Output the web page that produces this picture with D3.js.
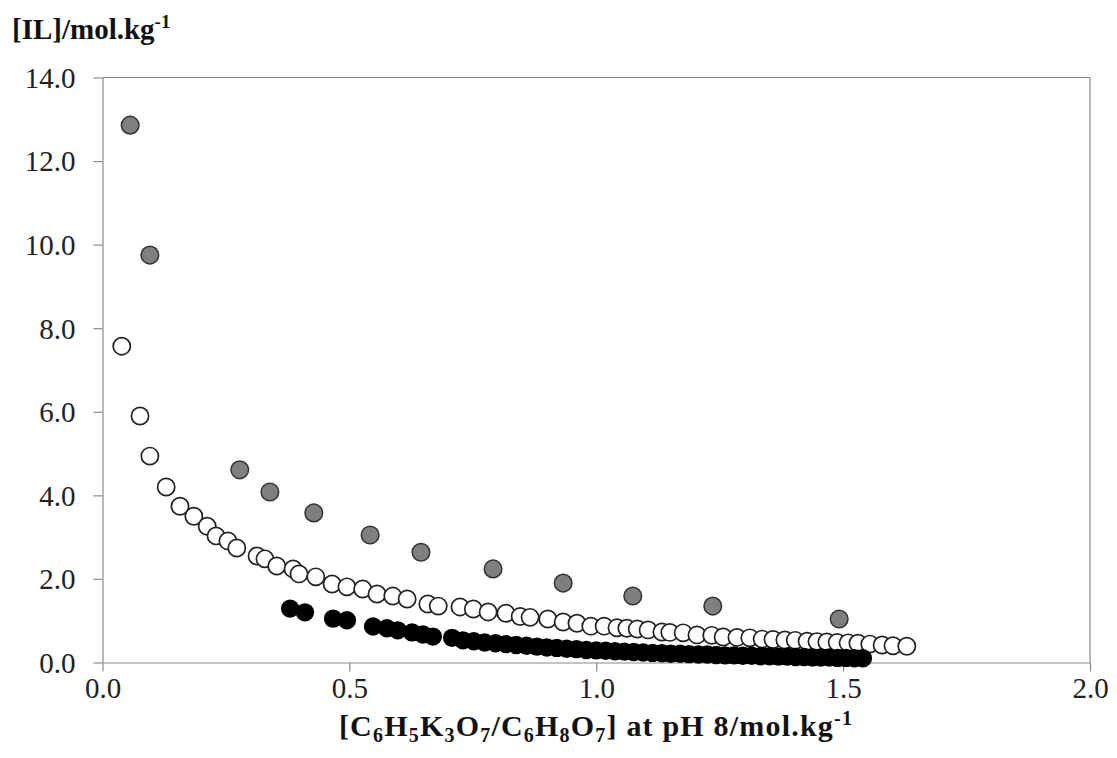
<!DOCTYPE html>
<html><head><meta charset="utf-8">
<script src="https://cdn.jsdelivr.net/npm/d3@7"></script>
<style>
body{margin:0;background:#fff;}
svg{display:block;}
text{font-family:"Liberation Serif","Times New Roman",serif;}
</style></head>
<body>
<svg id="chart" width="1117" height="758"></svg>
<script>
// Gray series
const grayX = [0.056,0.096,0.278,0.339,0.428,0.542,0.645,0.791,0.933,1.074,1.236,1.492];
const grayY = [12.86,9.75,4.61,4.08,3.58,3.05,2.64,2.24,1.90,1.59,1.35,1.04];
// White (open) series
const whiteX = [0.039,0.076,0.096,0.129,0.157,0.185,0.212,0.230,0.254,0.272,0.313,0.329,0.353,0.386,0.398,0.432,0.465,0.495,0.527,0.556,0.588,0.617,0.659,0.680,0.724,0.751,0.781,0.817,0.846,0.866,0.902,0.933,0.961,0.989,1.016,1.042,1.062,1.083,1.105,1.133,1.149,1.176,1.204,1.234,1.257,1.285,1.311,1.336,1.358,1.382,1.403,1.427,1.447,1.467,1.488,1.510,1.530,1.554,1.579,1.601,1.629];
const whiteY = [7.57,5.90,4.94,4.20,3.74,3.50,3.26,3.03,2.91,2.74,2.55,2.48,2.31,2.24,2.12,2.05,1.88,1.81,1.76,1.64,1.59,1.52,1.40,1.35,1.33,1.28,1.21,1.18,1.10,1.08,1.04,0.97,0.94,0.87,0.87,0.83,0.82,0.80,0.78,0.73,0.72,0.71,0.66,0.65,0.61,0.60,0.59,0.56,0.55,0.54,0.53,0.51,0.50,0.49,0.48,0.47,0.46,0.44,0.42,0.40,0.39];
// Black series
const blackX = [0.380,0.410,0.467,0.495,0.548,0.576,0.598,0.627,0.649,0.669,0.708,0.730,0.752,0.774,0.796,0.817,0.838,0.859,0.880,0.900,0.920,0.940,0.960,0.980,1.000,1.019,1.038,1.057,1.076,1.095,1.114,1.133,1.151,1.170,1.188,1.207,1.225,1.243,1.261,1.279,1.297,1.315,1.333,1.351,1.369,1.387,1.404,1.421,1.438,1.455,1.472,1.489,1.506,1.523,1.540];
const blackY = [1.29,1.20,1.05,1.01,0.86,0.82,0.77,0.72,0.67,0.62,0.59,0.53,0.51,0.48,0.46,0.44,0.42,0.40,0.38,0.36,0.35,0.33,0.32,0.30,0.29,0.28,0.27,0.26,0.25,0.24,0.23,0.22,0.21,0.21,0.20,0.19,0.19,0.18,0.17,0.17,0.16,0.16,0.15,0.15,0.14,0.14,0.13,0.13,0.12,0.12,0.12,0.11,0.11,0.10,0.10];
const xTicks = [0,0.5,1.0,1.5,2.0];
const yTicks = [0,2,4,6,8,10,12,14];

const svg = d3.select("#chart");
const x = d3.scaleLinear().domain([0,2]).range([102.5,1090]);
const y = d3.scaleLinear().domain([0,14]).range([662.5,77.5]);
const axisColor = "#8a8a8a";

// frame top & right
svg.append("line").attr("x1",x(0)).attr("x2",x(2)).attr("y1",y(14)).attr("y2",y(14)).attr("stroke",axisColor).attr("stroke-width",1.2);
svg.append("line").attr("x1",x(2)).attr("x2",x(2)).attr("y1",y(14)).attr("y2",y(0)).attr("stroke",axisColor).attr("stroke-width",1.2);

const gx = svg.append("g").attr("transform",`translate(0,${y(0)})`)
  .call(d3.axisBottom(x).tickValues(xTicks).tickFormat(d3.format(".1f")).tickSize(9).tickSizeOuter(0).tickPadding(6));
const gy = svg.append("g").attr("transform",`translate(${x(0)},0)`)
  .call(d3.axisLeft(y).tickValues(yTicks).tickFormat(d3.format(".1f")).tickSize(9).tickSizeOuter(0).tickPadding(18));
[gx,gy].forEach(g=>{
  g.selectAll("path,line").attr("stroke",axisColor).attr("stroke-width",1.2);
  g.selectAll("text").attr("font-family","Liberation Serif, serif").attr("font-size",29).attr("fill","#222");
});
gx.selectAll("text").attr("dy","0.71em");
gy.selectAll("text").attr("dy","0.34em");

// points
svg.append("g").selectAll("circle").data(d3.zip(whiteX,whiteY)).join("circle")
  .attr("cx",d=>x(d[0])).attr("cy",d=>y(d[1])).attr("r",8.6)
  .attr("fill","#fff").attr("stroke","#222").attr("stroke-width",1.7);
svg.append("g").selectAll("circle").data(d3.zip(blackX,blackY)).join("circle")
  .attr("cx",d=>x(d[0])).attr("cy",d=>y(d[1])).attr("r",9.2)
  .attr("fill","#000");
svg.append("g").selectAll("circle").data(d3.zip(grayX,grayY)).join("circle")
  .attr("cx",d=>x(d[0])).attr("cy",d=>y(d[1])).attr("r",8.8)
  .attr("fill","#7f7f7f").attr("stroke","#333").attr("stroke-width",1.5);

// y title
const yt = svg.append("text").attr("x",12).attr("y",39).attr("font-size",29).attr("font-weight","bold").attr("fill","#111");
yt.append("tspan").text("[IL]/mol.kg");
yt.append("tspan").attr("font-size",19).attr("dy",-11).text("-1");

// x title
const xt = svg.append("text").attr("x",596).attr("y",736).attr("text-anchor","middle").attr("font-size",30).attr("font-weight","bold").attr("fill","#111").attr("letter-spacing",1.2);
const parts = [["[C",0],["6",1],["H",0],["5",1],["K",0],["3",1],["O",0],["7",1],["/C",0],["6",1],["H",0],["8",1],["O",0],["7",1],["] at pH 8/mol.kg",0],["-1",2]];
let state = 0;
parts.forEach(([t,s])=>{
  let dy = 0;
  if (s===1) dy = (state===0? 6 : 0) ; else if (s===2) dy = (state===1? -17 : -11); else dy = (state===1? -6 : (state===2? 11:0));
  const ts = xt.append("tspan").text(t).attr("font-size", s===0?30:20);
  if (dy) ts.attr("dy",dy);
  state = s;
});
</script>
</body></html>
